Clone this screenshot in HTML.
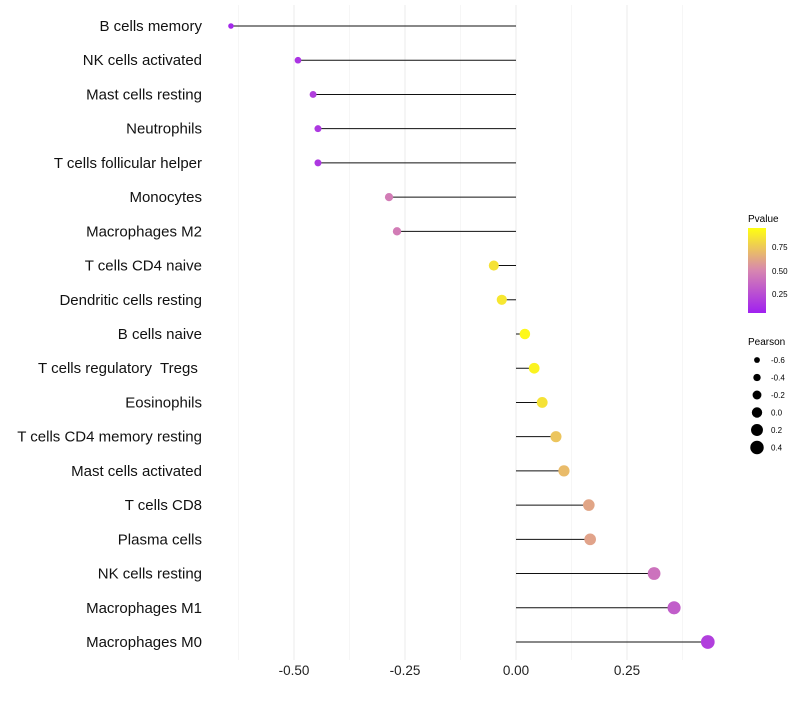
<!DOCTYPE html>
<html><head><meta charset="utf-8"><style>
body{margin:0;background:#fff;font-family:"Liberation Sans",sans-serif}
text{white-space:pre}
</style></head><body>
<svg id="chart" width="800" height="700" xmlns="http://www.w3.org/2000/svg" font-family="Liberation Sans, sans-serif">
<defs><linearGradient id="pg" x1="0" y1="1" x2="0" y2="0">
<stop offset="0" stop-color="#a020f0"/><stop offset="0.5" stop-color="#d786b0"/><stop offset="1" stop-color="#ffff10"/></linearGradient></defs>
<g id="grid"></g><g id="marks"></g><g id="labels"></g>
<g>
<text x="748" y="222" font-size="10" fill="#000">Pvalue</text>
<rect x="748" y="228" width="18" height="85" fill="url(#pg)"/>
<text x="772" y="250" font-size="8">0.75</text>
<text x="772" y="274" font-size="8">0.50</text>
<text x="772" y="297" font-size="8">0.25</text>
</g>
<g id="sizeleg">
<text x="748" y="345" font-size="10">Pearson</text>
</g>
</svg>
<script>
const categories=["B cells memory","NK cells activated","Mast cells resting","Neutrophils","T cells follicular helper","Monocytes","Macrophages M2","T cells CD4 naive","Dendritic cells resting","B cells naive","T cells regulatory  Tregs ","Eosinophils","T cells CD4 memory resting","Mast cells activated","T cells CD8","Plasma cells","NK cells resting","Macrophages M1","Macrophages M0"];
const pearson=[-0.642,-0.491,-0.457,-0.446,-0.446,-0.286,-0.268,-0.050,-0.032,0.020,0.041,0.059,0.090,0.108,0.164,0.167,0.311,0.356,0.432];
const pvalues=[0.04,0.1,0.15,0.12,0.12,0.45,0.45,0.88,0.9,0.97,0.95,0.88,0.76,0.72,0.63,0.62,0.4,0.3,0.15];
const xTicks=[-0.5,-0.25,0,0.25];
const xTickLabels=["-0.50","-0.25","0.00","0.25"];
const sizeLegend=[-0.6,-0.4,-0.2,0.0,0.2,0.4];
const sizeLegendLabels=["-0.6","-0.4","-0.2","0.0","0.2","0.4"];
const NS="http://www.w3.org/2000/svg";
const xS=v=>516+v*444;
const yS=i=>26+i*(642-26)/(categories.length-1);
const rS=v=>5.2+3.8*v;
function lerp(a,b,t){return a.map((c,i)=>Math.round(c+(b[i]-c)*t));}
function col(p){const a=[160,32,240],m=[215,134,176],b=[255,255,16];
 const c=p<0.5?lerp(a,m,p/0.5):lerp(m,b,(p-0.5)/0.5);return `rgb(${c})`;}
function mk(t,at,parent){const e=document.createElementNS(NS,t);for(const k in at)e.setAttribute(k,at[k]);parent.appendChild(e);return e;}
const grid=document.getElementById('grid'),marks=document.getElementById('marks'),labels=document.getElementById('labels');
for(let v=-0.625;v<=0.45;v+=0.125){
 const major=xTicks.some(t=>Math.abs(t-v)<1e-9);
 const l=mk('line',{x1:xS(v),x2:xS(v),y1:5,y2:660,stroke:major?'#ebebeb':'#f4f4f4','stroke-width':major?1:0.8},grid);
 
 
}
xTicks.forEach((t,i)=>{
 const e=mk('text',{x:xS(t),y:675,'font-size':13.5,'text-anchor':'middle',fill:'#222'},labels);
 e.textContent=xTickLabels[i];
 
 
});
categories.forEach((c,i)=>{
 const y=yS(i);
 const t=mk('text',{x:202,y:y+5,'font-size':15,'text-anchor':'end',fill:'#111'},labels);
 t.textContent=c;
 
 
 const ln=mk('line',{x1:xS(0),x2:xS(pearson[i]),y1:y,y2:y,stroke:'#111','stroke-width':1},marks);
 
 
 const d=mk('circle',{cx:xS(pearson[i]),cy:y,r:rS(pearson[i]),fill:col(pvalues[i])},marks);
 
 
});
const sl=document.getElementById('sizeleg');
sizeLegend.forEach((v,i)=>{
 const y=360+i*17.5;
 const c=mk('circle',{cx:757,cy:y,r:rS(v),fill:'#000'},sl);
 
 
 const t=mk('text',{x:771,y:y+3,'font-size':8},sl);
 t.textContent=sizeLegendLabels[i];
 
 
});
</script>
</body></html>
